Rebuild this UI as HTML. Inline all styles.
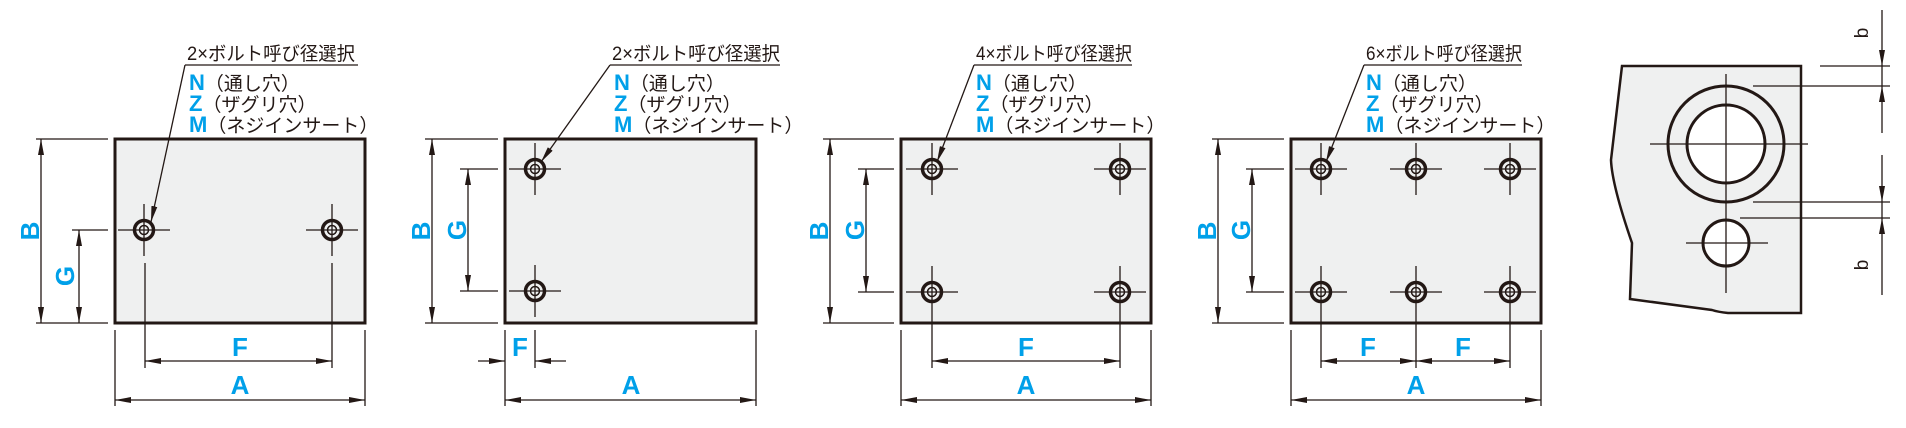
<!DOCTYPE html>
<html><head><meta charset="utf-8"><style>
html,body{margin:0;padding:0;background:#fff;}
svg{display:block}
.t{font-family:"Liberation Sans","Noto Sans CJK JP",sans-serif;font-size:19px;fill:#231815}
.bl{font-family:"Liberation Sans",sans-serif;font-weight:bold;fill:#00a0e9}
</style></head><body>
<svg width="1906" height="428" viewBox="0 0 1906 428" xmlns="http://www.w3.org/2000/svg">
<defs>
<marker id="ar" viewBox="0 0 16 6" refX="16" refY="3" markerWidth="16" markerHeight="6" markerUnits="userSpaceOnUse" orient="auto-start-reverse"><path d="M0,0 L16,3 L0,6 z" fill="#231815"/></marker>
<g id="h"><line x1="-26" y1="0" x2="26" y2="0" stroke="#231815" stroke-width="1.3"/><line x1="0" y1="-26" x2="0" y2="26" stroke="#231815" stroke-width="1.3"/><circle r="9.5" fill="none" stroke="#231815" stroke-width="3.5"/><circle r="4.5" fill="none" stroke="#231815" stroke-width="1.5"/></g>
</defs>
<g stroke="#231815" fill="none" stroke-width="1.3">
<rect x="115" y="139" width="250" height="184" fill="#eff0f0" stroke-width="3"/>
<line x1="36" y1="139" x2="108" y2="139"/><line x1="36" y1="323" x2="108" y2="323"/><line x1="72" y1="230" x2="108" y2="230"/>
<line x1="41" y1="139" x2="41" y2="323" marker-start="url(#ar)" marker-end="url(#ar)"/>
<line x1="79" y1="230" x2="79" y2="323" marker-start="url(#ar)" marker-end="url(#ar)"/>
<line x1="145" y1="263" x2="145" y2="368"/><line x1="332" y1="263" x2="332" y2="368"/>
<line x1="145" y1="361" x2="332" y2="361" marker-start="url(#ar)" marker-end="url(#ar)"/>
<line x1="115" y1="330" x2="115" y2="406"/><line x1="365" y1="330" x2="365" y2="406"/>
<line x1="115" y1="400" x2="365" y2="400" marker-start="url(#ar)" marker-end="url(#ar)"/>
<line x1="185" y1="65" x2="358" y2="65"/><line x1="185" y1="65" x2="151" y2="222" marker-end="url(#ar)"/>
<rect x="505" y="139" width="251" height="184" fill="#eff0f0" stroke-width="3"/>
<line x1="425" y1="139" x2="498" y2="139"/><line x1="425" y1="323" x2="498" y2="323"/><line x1="460" y1="169" x2="498" y2="169"/><line x1="460" y1="291" x2="498" y2="291"/>
<line x1="432" y1="139" x2="432" y2="323" marker-start="url(#ar)" marker-end="url(#ar)"/>
<line x1="468" y1="169" x2="468" y2="291" marker-start="url(#ar)" marker-end="url(#ar)"/>
<line x1="505" y1="330" x2="505" y2="406"/><line x1="756" y1="330" x2="756" y2="406"/><line x1="535" y1="330" x2="535" y2="368"/>
<line x1="478" y1="361" x2="505" y2="361" marker-end="url(#ar)"/><line x1="566" y1="361" x2="535" y2="361" marker-end="url(#ar)"/>
<line x1="505" y1="400" x2="756" y2="400" marker-start="url(#ar)" marker-end="url(#ar)"/>
<line x1="610" y1="65" x2="780" y2="65"/><line x1="610" y1="65" x2="541" y2="162" marker-end="url(#ar)"/>
<rect x="901" y="139" width="250" height="184" fill="#eff0f0" stroke-width="3"/>
<line x1="823" y1="139" x2="894" y2="139"/><line x1="823" y1="323" x2="894" y2="323"/><line x1="858" y1="169" x2="894" y2="169"/><line x1="858" y1="292" x2="894" y2="292"/>
<line x1="830" y1="139" x2="830" y2="323" marker-start="url(#ar)" marker-end="url(#ar)"/>
<line x1="866" y1="169" x2="866" y2="292" marker-start="url(#ar)" marker-end="url(#ar)"/>
<line x1="932" y1="318" x2="932" y2="368"/><line x1="1120" y1="318" x2="1120" y2="368"/>
<line x1="932" y1="361" x2="1120" y2="361" marker-start="url(#ar)" marker-end="url(#ar)"/>
<line x1="901" y1="330" x2="901" y2="406"/><line x1="1151" y1="330" x2="1151" y2="406"/>
<line x1="901" y1="400" x2="1151" y2="400" marker-start="url(#ar)" marker-end="url(#ar)"/>
<line x1="974" y1="65" x2="1132" y2="65"/><line x1="974" y1="65" x2="937" y2="162" marker-end="url(#ar)"/>
<rect x="1291" y="139" width="250" height="184" fill="#eff0f0" stroke-width="3"/>
<line x1="1212" y1="139" x2="1284" y2="139"/><line x1="1212" y1="323" x2="1284" y2="323"/><line x1="1246" y1="169" x2="1284" y2="169"/><line x1="1246" y1="292" x2="1284" y2="292"/>
<line x1="1218" y1="139" x2="1218" y2="323" marker-start="url(#ar)" marker-end="url(#ar)"/>
<line x1="1252" y1="169" x2="1252" y2="292" marker-start="url(#ar)" marker-end="url(#ar)"/>
<line x1="1321" y1="318" x2="1321" y2="368"/><line x1="1416" y1="318" x2="1416" y2="368"/><line x1="1510" y1="318" x2="1510" y2="368"/>
<line x1="1321" y1="361" x2="1416" y2="361" marker-start="url(#ar)" marker-end="url(#ar)"/>
<line x1="1416" y1="361" x2="1510" y2="361" marker-start="url(#ar)" marker-end="url(#ar)"/>
<line x1="1291" y1="330" x2="1291" y2="406"/><line x1="1541" y1="330" x2="1541" y2="406"/>
<line x1="1291" y1="400" x2="1541" y2="400" marker-start="url(#ar)" marker-end="url(#ar)"/>
<line x1="1364" y1="65" x2="1522" y2="65"/><line x1="1364" y1="65" x2="1326" y2="162" marker-end="url(#ar)"/>
<path d="M1622,66 L1801,66 L1801,313 L1728,313 Q1718,312 1712,310 L1630,299 L1632,243 Q1612,185 1611,160 Z" fill="#eff0f0" stroke-width="2.5"/>
<circle cx="1726" cy="144" r="58" fill="none" stroke-width="3"/>
<circle cx="1726" cy="144" r="39" fill="#fff" stroke-width="3"/>
<circle cx="1726" cy="243" r="23" fill="#fff" stroke-width="3"/>
<line x1="1726" y1="74" x2="1726" y2="293"/><line x1="1650" y1="144" x2="1808" y2="144"/><line x1="1686" y1="243" x2="1768" y2="243"/>
<line x1="1820" y1="66" x2="1890" y2="66"/><line x1="1753" y1="86" x2="1890" y2="86"/><line x1="1753" y1="202" x2="1890" y2="202"/><line x1="1740" y1="218" x2="1890" y2="218"/>
<line x1="1882" y1="10" x2="1882" y2="66" marker-end="url(#ar)"/><line x1="1882" y1="133" x2="1882" y2="86" marker-end="url(#ar)"/>
<line x1="1882" y1="155" x2="1882" y2="202" marker-end="url(#ar)"/><line x1="1882" y1="295" x2="1882" y2="218" marker-end="url(#ar)"/>
<line x1="1882" y1="66" x2="1882" y2="86"/><line x1="1882" y1="202" x2="1882" y2="218"/>
</g>
<use href="#h" x="144" y="230"/><use href="#h" x="332" y="230"/>
<use href="#h" x="535" y="169"/><use href="#h" x="535" y="291"/>
<use href="#h" x="932" y="169"/><use href="#h" x="1120" y="169"/><use href="#h" x="932" y="292"/><use href="#h" x="1120" y="292"/>
<use href="#h" x="1321" y="169"/><use href="#h" x="1416" y="169"/><use href="#h" x="1510" y="169"/>
<use href="#h" x="1321" y="292"/><use href="#h" x="1416" y="292"/><use href="#h" x="1510" y="292"/>
<g class="bl" font-size="26" text-anchor="middle">
<text transform="translate(39,231) rotate(-90)">B</text>
<text transform="translate(74,276) rotate(-90)">G</text>
<text x="240" y="356">F</text><text x="240" y="394">A</text>
<text transform="translate(430,231) rotate(-90)">B</text>
<text transform="translate(466,230) rotate(-90)">G</text>
<text x="520" y="356">F</text><text x="631" y="394">A</text>
<text transform="translate(828,231) rotate(-90)">B</text>
<text transform="translate(864,230) rotate(-90)">G</text>
<text x="1026" y="356">F</text><text x="1026" y="394">A</text>
<text transform="translate(1216,231) rotate(-90)">B</text>
<text transform="translate(1250,230) rotate(-90)">G</text>
<text x="1368" y="356">F</text><text x="1463" y="356">F</text><text x="1416" y="394">A</text>
</g>
<g class="t" font-size="28" text-anchor="middle">
<text transform="translate(1868,33) rotate(-90)">b</text>
<text transform="translate(1868,265) rotate(-90)">b</text>
</g>
<g class="t">
<text x="187" y="60" textLength="168" lengthAdjust="spacingAndGlyphs">2×ボルト呼び径選択</text>
<text x="612" y="60" textLength="168" lengthAdjust="spacingAndGlyphs">2×ボルト呼び径選択</text>
<text x="976" y="60" textLength="156" lengthAdjust="spacingAndGlyphs">4×ボルト呼び径選択</text>
<text x="1366" y="60" textLength="156" lengthAdjust="spacingAndGlyphs">6×ボルト呼び径選択</text>
</g>
<g class="t" font-size="18">
<g transform="translate(189,0)">
<text x="0" y="90"><tspan class="bl" font-size="22">N</tspan>（通し穴）</text>
<text x="0" y="111"><tspan class="bl" font-size="22">Z</tspan>（ザグリ穴）</text>
<text x="0" y="132"><tspan class="bl" font-size="22">M</tspan>（ネジインサート）</text>
</g>
<g transform="translate(614,0)">
<text x="0" y="90"><tspan class="bl" font-size="22">N</tspan>（通し穴）</text>
<text x="0" y="111"><tspan class="bl" font-size="22">Z</tspan>（ザグリ穴）</text>
<text x="0" y="132"><tspan class="bl" font-size="22">M</tspan>（ネジインサート）</text>
</g>
<g transform="translate(976,0)">
<text x="0" y="90"><tspan class="bl" font-size="22">N</tspan>（通し穴）</text>
<text x="0" y="111"><tspan class="bl" font-size="22">Z</tspan>（ザグリ穴）</text>
<text x="0" y="132"><tspan class="bl" font-size="22">M</tspan>（ネジインサート）</text>
</g>
<g transform="translate(1366,0)">
<text x="0" y="90"><tspan class="bl" font-size="22">N</tspan>（通し穴）</text>
<text x="0" y="111"><tspan class="bl" font-size="22">Z</tspan>（ザグリ穴）</text>
<text x="0" y="132"><tspan class="bl" font-size="22">M</tspan>（ネジインサート）</text>
</g>
</g>
</svg>
</body></html>
